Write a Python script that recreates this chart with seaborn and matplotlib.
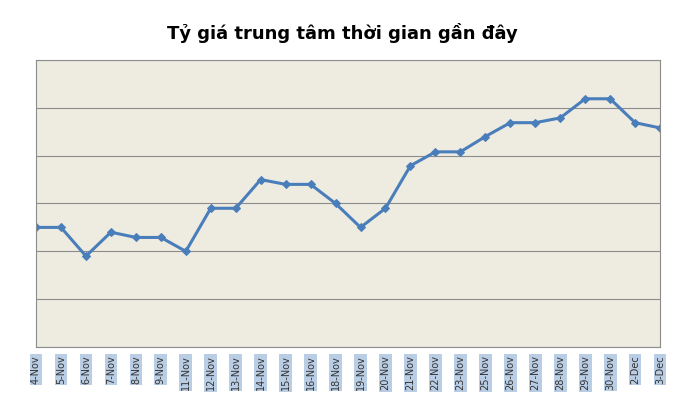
import matplotlib
matplotlib.use("Agg")
import matplotlib.pyplot as plt
import seaborn as sns
import pandas as pd

dates = ["4-Nov","5-Nov","6-Nov","7-Nov","8-Nov","9-Nov","11-Nov","12-Nov","13-Nov","14-Nov",
         "15-Nov","16-Nov","18-Nov","19-Nov","20-Nov","21-Nov","22-Nov","23-Nov","25-Nov",
         "26-Nov","27-Nov","28-Nov","29-Nov","30-Nov","2-Dec","3-Dec"]
values = [2.5,2.5,1.9,2.4,2.29,2.29,2.0,2.9,2.9,3.5,3.4,3.4,3.0,2.5,2.9,3.79,4.08,4.08,4.4,
          4.69,4.69,4.79,5.19,5.19,4.69,4.58]

df = pd.DataFrame({"idx": range(len(dates)), "v": values})
sns.set_style("white")
fig = plt.figure(figsize=(6.85,4.17), dpi=100)
ax = fig.add_axes([0.0526,0.168,0.911,0.688])
ax.set_facecolor("#EEECE1")
sns.lineplot(data=df, x="idx", y="v", ax=ax, color="#4A7EBB", lw=2.2, marker="D",
             markersize=4, markeredgecolor="#4A7EBB")
ax.set_xlim(0,len(dates)-1)
ax.set_ylim(0,6)
ax.set_yticks(range(0,7))
ax.set_yticklabels([])
ax.tick_params(axis="y", length=0)
ax.grid(axis="y", color="#8C8C8C", lw=0.8)
ax.set_xticks(range(len(dates)))
ax.set_xticklabels(dates, rotation=90, fontsize=7, color="#333333")
for t in ax.get_xticklabels():
    t.set_bbox(dict(facecolor="#B9CDE5", edgecolor="none", pad=1))
ax.tick_params(axis="x", length=4, color="#8C8C8C", pad=2)
ax.set_xlabel(""); ax.set_ylabel("")
for s in ax.spines.values():
    s.set_color("#8C8C8C")
fig.suptitle("Tỷ giá trung tâm thời gian gần đây", y=0.945, fontsize=13, fontweight="bold", color="black")
fig.savefig("out.png")
